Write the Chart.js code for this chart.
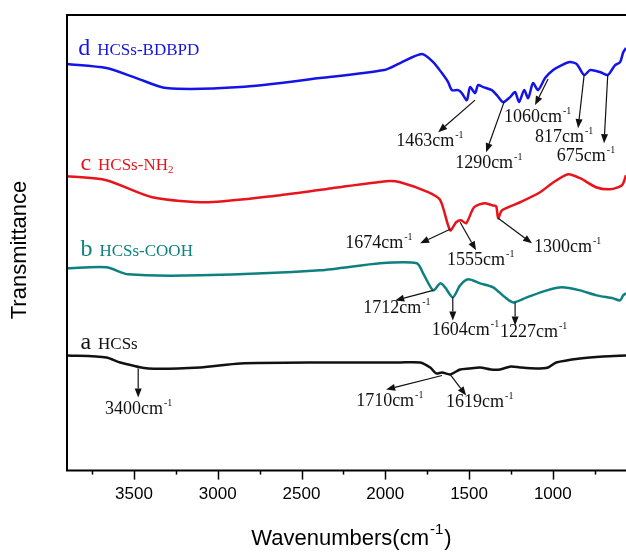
<!DOCTYPE html>
<html>
<head>
<meta charset="utf-8">
<script src="https://cdn.jsdelivr.net/npm/chart.js@4/dist/chart.umd.min.js"></script>
<style>
  html, body { margin: 0; padding: 0; background: #fff; }
  canvas { display: block; }
</style>
</head>
<body>
<canvas id="ftir" width="626" height="552"></canvas>
<script>
// FTIR spectra, stacked (arbitrary transmittance units)
const tickValues = [3750, 3500, 3250, 3000, 2750, 2500, 2250, 2000, 1750, 1500, 1250, 1000, 750];
const tickLabels = ['', '3500', '', '3000', '', '2500', '', '2000', '', '1500', '', '1000', ''];

// a HCSs
const wnA = [3898, 3665, 3582, 3415, 3105, 2866, 2389, 1911, 1792, 1732, 1696, 1661, 1613, 1553, 1500, 1434, 1370, 1315, 1250, 1195, 1100, 1028, 980, 837, 700, 563];
const tA  = [115, 113, 108, 102, 103, 107, 108, 108, 108, 103, 97, 98, 96, 101, 102, 103, 101, 101, 104, 103, 102, 103, 108, 112, 114, 115];

// b HCSs-COOH
const wnB = [3898, 3665, 3534, 3105, 2389, 2030, 1812, 1774, 1714, 1672, 1643, 1597, 1553, 1505, 1434, 1356, 1285, 1237, 1155, 1036, 946, 837, 738, 640, 598, 580, 563];
const tB  = [202, 203, 196, 195, 200, 207, 207, 197, 180, 187, 183, 173, 185, 191, 187, 183, 173, 168, 173, 180, 183, 180, 175, 172, 170, 175, 177];

// c HCSs-NH2
const wnC = [3898, 3665, 3391, 3057, 2627, 2317, 1995, 1911, 1744, 1672, 1613, 1577, 1548, 1517, 1470, 1410, 1362, 1338, 1326, 1303, 1195, 1076, 1004, 909, 837, 742, 658, 587, 563];
const tC  = [294, 290, 273, 268, 275, 282, 289, 288, 278, 270, 240, 248, 250, 247, 263, 267, 265, 264, 252, 260, 268, 278, 287, 296, 292, 283, 281, 285, 295];

// d HCSs-BDBPD
const wnD = [3898, 3665, 3486, 3308, 2866, 2389, 2007, 1911, 1782, 1714, 1662, 1625, 1603, 1565, 1543, 1513, 1494, 1464, 1446, 1416, 1364, 1334, 1297, 1255, 1225, 1201, 1171, 1147, 1118, 1088, 1046, 998, 946, 897, 857, 813, 777, 718, 672, 648, 628, 598, 579, 563];
const tD  = [406, 402, 392, 382, 383, 392, 400, 407, 416, 408, 397, 388, 380, 380, 377, 370, 383, 377, 385, 383, 380, 375, 368, 373, 378, 368, 380, 372, 387, 380, 392, 400, 405, 408, 406, 395, 400, 398, 395, 400, 405, 408, 418, 422];

const seriesNames = ['HCSs', 'HCSs-COOH', 'HCSs-NH2', 'HCSs-BDBPD'];
const seriesLetters = ['a', 'b', 'c', 'd'];
const seriesColors = ['#111111', '#0f8080', '#e8141c', '#1414e6'];

// peak labels: arrow from -> to, text anchored at (left, baseline), all in data space
const peakNotes = [
  { text: '1463', from: [1464, 370], to: [1684, 338], at: [1935, 324] },
  { text: '1290', from: [1291, 368], to: [1398, 318], at: [1583, 302] },
  { text: '1060', from: [1028, 391], to: [1106, 365], at: [1291, 348] },
  { text: '817',  from: [813, 395],  to: [849, 342],  at: [1106, 328] },
  { text: '675',  from: [672, 395],  to: [694, 327],  at: [976, 309] },
  { text: '1674', from: [1613, 241], to: [1792, 227], at: [2239, 222] },
  { text: '1555', from: [1553, 248], to: [1458, 220], at: [1631, 205] },
  { text: '1300', from: [1326, 252], to: [1124, 227], at: [1112, 218] },
  { text: '1712', from: [1714, 180], to: [1941, 170], at: [2132, 157] },
  { text: '1604', from: [1597, 173], to: [1597, 150], at: [1722, 135] },
  { text: '1227', from: [1225, 168], to: [1225, 145], at: [1315, 133] },
  { text: '3400', from: [3475, 102], to: [3475, 73],  at: [3673, 57] },
  { text: '1710', from: [1661, 95],  to: [1995, 81],  at: [2174, 65] },
  { text: '1619', from: [1613, 96],  to: [1517, 75],  at: [1637, 64] }
];
const nameAnchors = [[3820, 121], [3820, 214], [3820, 300], [3833, 415]];

function toPoints(xs, ys) {
  return xs.map((x, i) => ({ x: x, y: ys[i] }));
}

const serif = '"Liberation Serif", "Times New Roman", serif';
const sans = '"Liberation Sans", Arial, sans-serif';

// frame, ticks, axis titles and annotations
const decorPlugin = {
  id: 'decor',
  afterDatasetsDraw(chart) {
    const ctx = chart.ctx;
    const xs = chart.scales.x, ys = chart.scales.y;
    const area = chart.chartArea;
    ctx.save();

    // frame (right side is cut off in the figure)
    ctx.strokeStyle = '#000';
    ctx.lineWidth = 2;
    ctx.beginPath();
    ctx.moveTo(area.right + 2, area.top);
    ctx.lineTo(area.left, area.top);
    ctx.lineTo(area.left, area.bottom);
    ctx.lineTo(area.right + 2, area.bottom);
    ctx.stroke();

    // tick marks, outward
    ctx.lineWidth = 1.5;
    tickValues.forEach((v, i) => {
      const px = Math.round(xs.getPixelForValue(v)) + 0.5;
      const len = tickLabels[i] ? 9 : 4;
      ctx.beginPath();
      ctx.moveTo(px, area.bottom);
      ctx.lineTo(px, area.bottom + len);
      ctx.stroke();
    });

    // y title
    ctx.fillStyle = '#000';
    ctx.font = '22px ' + sans;
    ctx.textAlign = 'center';
    ctx.textBaseline = 'middle';
    ctx.save();
    ctx.translate(20, 250);
    ctx.rotate(-Math.PI / 2);
    ctx.fillText('Transmittance', 0, 0);
    ctx.restore();

    // x title with superscript
    ctx.textAlign = 'left';
    ctx.textBaseline = 'alphabetic';
    const main = 'Wavenumbers(cm';
    ctx.font = '22px ' + sans;
    const w1 = ctx.measureText(main).width;
    ctx.font = '15px ' + sans;
    const w2 = ctx.measureText('-1').width;
    ctx.font = '22px ' + sans;
    const w3 = ctx.measureText(')').width;
    let tx = (area.left + area.right) / 2 - (w1 + w2 + w3) / 2 + 4;
    const tyb = 545;
    ctx.fillText(main, tx, tyb);
    ctx.font = '15px ' + sans;
    ctx.fillText('-1', tx + w1 + 1, tyb - 11);
    ctx.font = '22px ' + sans;
    ctx.fillText(')', tx + w1 + w2 + 2, tyb);

    // series names
    nameAnchors.forEach((a, i) => {
      let x = xs.getPixelForValue(a[0]);
      const y = ys.getPixelForValue(a[1]);
      ctx.fillStyle = seriesColors[i];
      ctx.font = '24px ' + serif;
      ctx.fillText(seriesLetters[i], x, y);
      x += ctx.measureText(seriesLetters[i]).width + 7;
      ctx.font = '17px ' + serif;
      const nm = seriesNames[i];
      if (nm.endsWith('NH2')) {
        const base = nm.slice(0, -1);
        ctx.fillText(base, x, y);
        const bw = ctx.measureText(base).width;
        ctx.font = '11px ' + serif;
        ctx.fillText('2', x + bw, y + 3);
      } else {
        ctx.fillText(nm, x, y);
      }
    });

    // peak arrows and labels
    ctx.strokeStyle = '#111';
    ctx.fillStyle = '#111';
    ctx.lineWidth = 1.2;
    peakNotes.forEach(n => {
      const x0 = xs.getPixelForValue(n.from[0]), y0 = ys.getPixelForValue(n.from[1]);
      const x1 = xs.getPixelForValue(n.to[0]), y1 = ys.getPixelForValue(n.to[1]);
      const ang = Math.atan2(y1 - y0, x1 - x0);
      const hl = 9, hw = 3.5;
      const bx = x1 - hl * Math.cos(ang), by = y1 - hl * Math.sin(ang);
      ctx.beginPath();
      ctx.moveTo(x0, y0);
      ctx.lineTo(bx, by);
      ctx.stroke();
      ctx.beginPath();
      ctx.moveTo(x1, y1);
      ctx.lineTo(bx + hw * Math.sin(ang), by - hw * Math.cos(ang));
      ctx.lineTo(bx - hw * Math.sin(ang), by + hw * Math.cos(ang));
      ctx.closePath();
      ctx.fill();

      const lx = xs.getPixelForValue(n.at[0]), ly = ys.getPixelForValue(n.at[1]);
      const label = n.text + 'cm';
      ctx.font = '18px ' + serif;
      ctx.fillText(label, lx, ly);
      const lw = ctx.measureText(label).width;
      ctx.font = '10px ' + serif;
      ctx.fillText('-1', lx + lw + 1, ly - 8);
    });

    ctx.restore();
  }
};

const datasets = [
  toPoints(wnA, tA), toPoints(wnB, tB), toPoints(wnC, tC), toPoints(wnD, tD)
].map((pts, i) => ({
  label: seriesNames[i],
  data: pts,
  borderColor: seriesColors[i],
  borderWidth: 2.5,
  pointRadius: 0,
  tension: 0.25,
  fill: false
}));

new Chart(document.getElementById('ftir'), {
  type: 'line',
  data: { datasets: datasets },
  options: {
    responsive: false,
    animation: false,
    events: [],
    layout: { padding: { left: 67, top: 15, right: 0, bottom: 33 } },
    plugins: { legend: { display: false }, tooltip: { enabled: false } },
    scales: {
      x: {
        type: 'linear',
        reverse: true,
        min: 563,
        max: 3900,
        afterBuildTicks: scale => { scale.ticks = tickValues.map(v => ({ value: v })); },
        ticks: {
          autoSkip: false,
          maxRotation: 0,
          padding: 14,
          color: '#000',
          font: { family: 'Liberation Sans', size: 17 },
          callback: (v, i) => tickLabels[i]
        },
        grid: { display: false, drawTicks: false },
        border: { display: false }
      },
      y: {
        type: 'linear',
        display: false,
        min: 0,
        max: 455
      }
    }
  },
  plugins: [decorPlugin]
});
</script>
</body>
</html>
